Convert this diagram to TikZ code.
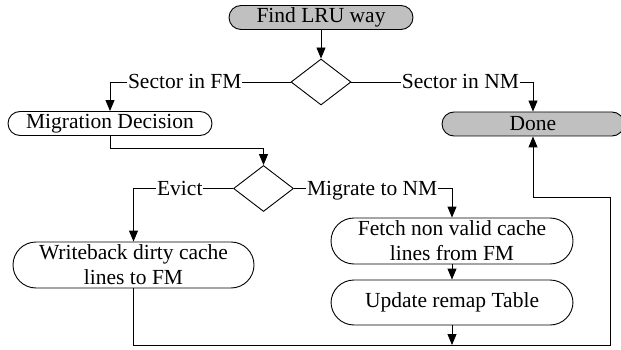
\documentclass[tikz,border=0pt]{standalone}
\usepackage{fontspec}
\setmainfont{Liberation Serif}
\usetikzlibrary{shapes.geometric,arrows.meta}
\definecolor{boxgray}{RGB}{192,192,192}
\begin{document}
\begin{tikzpicture}[x=1pt,y=-1pt,
  line width=0.9pt,
  font=\fontsize{21.5}{25}\selectfont,
  term/.style={draw, rectangle, inner sep=0pt, align=center, minimum height=24pt, rounded corners=12pt},
  termtwo/.style={draw, rectangle, inner sep=0pt, align=center, minimum height=46pt, rounded corners=23pt},
  grayfill/.style={fill=boxgray},
  decision/.style={draw, diamond, inner sep=0pt, minimum width=60pt, minimum height=46pt},
  arr/.style={-{Triangle[width=9pt,length=11pt]}},
  lbl/.style={fill=white, inner xsep=1pt, inner ysep=0pt, text height=14pt, text depth=0pt}
]
\useasboundingbox (0,0) rectangle (621,350);

\node[term, grayfill, minimum width=184pt] (find) at (321,17.5) {Find LRU way};
\node[decision] (d1) at (321,82) {};
\node[term, minimum width=204pt] (md) at (110,123.5) {Migration Decision};
\node[term, grayfill, minimum width=182pt] (done) at (533,124) {Done};
\node[decision] (d2) at (263.5,188.5) {};
\node[termtwo, minimum width=241pt] (wb) at (133.5,265) {Writeback dirty cache\\lines to FM};
\node[termtwo, minimum width=242pt] (fetch) at (452,241) {Fetch non valid cache\\lines from FM};
\node[termtwo, minimum width=242pt, minimum height=45pt] (upd) at (452,302.5) {Update remap Table};

\coordinate (j) at (452,345);
\coordinate (r1) at (610,345);
\coordinate (r2) at (610,197);

\draw[arr] (find) -- (d1);
\draw[arr] (d1.west) -| node[lbl, pos=0.293] {Sector in FM} (md.north);
\draw[arr] (d1.east) -| node[lbl, pos=0.30] {Sector in NM} (done.north);
\draw[arr] (md.south) -- ++(0,13) -| (d2.north);
\draw[arr] (d2.west) -| node[lbl, pos=0.2675] {Evict} (wb.north);
\draw[arr] (d2.east) -| node[lbl, pos=0.2475] {Migrate to NM} (fetch.north);
\draw[arr] (fetch) -- (upd);
\draw[arr] (upd) -- (j);
\draw[arr] (wb.south) |- (r1) -- (r2) -| (done.south);
\end{tikzpicture}
\end{document}
